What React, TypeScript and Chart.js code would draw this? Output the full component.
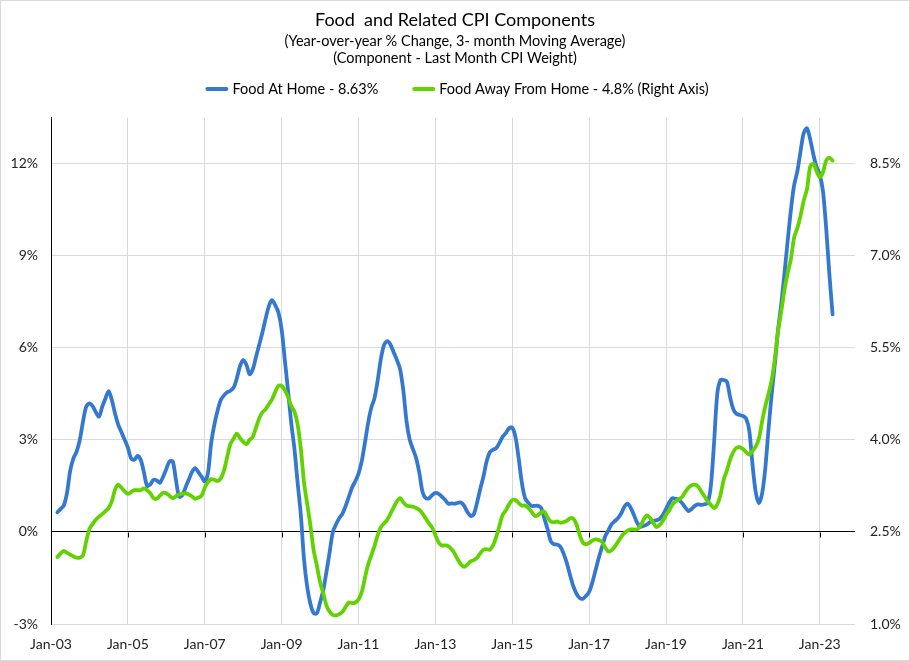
import { Chart, registerables } from 'chart.js';
import { useEffect, useRef } from 'react';

Chart.register(...registerables);

const titleText = 'Food  and Related CPI Components';
const subtitleLines = ['(Year-over-year % Change, 3- month Moving Average)', '(Component - Last Month CPI Weight)'];
const seriesNames = ['Food At Home - 8.63%', 'Food Away From Home - 4.8% (Right Axis)'];

// month index 0 = Jan-03, first value is Mar-03, last is May-23
const firstMonth = 2;

const foodAtHome = [
  0.64, 0.75, 0.86, 1.27, 2.0, 2.4, 2.62, 3.0, 3.6, 4.08,
  4.19, 4.1, 3.9, 3.76, 4.08, 4.35, 4.59, 4.3, 3.85, 3.49, 3.25, 3.0,
  2.75, 2.4, 2.35, 2.48, 2.35, 1.95, 1.5, 1.55, 1.7, 1.68, 1.6, 1.8,
  2.05, 2.3, 2.3, 1.7, 1.15, 1.2, 1.45, 1.7, 1.95, 2.08, 1.95, 1.8,
  1.65, 1.92, 2.89, 3.5, 3.95, 4.3, 4.45, 4.55, 4.6, 4.7, 5.0, 5.4,
  5.6, 5.45, 5.14, 5.3, 5.7, 6.1, 6.5, 6.95, 7.35, 7.55, 7.39, 7.15,
  6.6, 5.6, 4.6, 3.55, 2.7, 1.6, 0.55, -0.9, -1.8, -2.35, -2.65, -2.65,
  -2.3, -1.9, -1.3, -0.65, 0.0, 0.25, 0.45, 0.6, 0.85, 1.15, 1.45, 1.65,
  1.9, 2.3, 2.9, 3.55, 4.05, 4.36, 4.95, 5.65, 6.1, 6.22, 6.1, 5.85,
  5.6, 5.3, 4.6, 3.6, 3.0, 2.7, 2.4, 1.92, 1.3, 1.1, 1.1, 1.2,
  1.27, 1.24, 1.15, 1.05, 0.92, 0.93, 0.92, 0.95, 0.96, 0.85, 0.65, 0.52,
  0.58, 0.95, 1.4, 1.8, 2.3, 2.6, 2.68, 2.73, 2.9, 3.1, 3.22, 3.38,
  3.4, 3.1, 2.4, 1.6, 1.1, 0.95, 0.85, 0.85, 0.85, 0.78, 0.45, 0.1,
  -0.3, -0.4, -0.41, -0.48, -0.7, -1.0, -1.39, -1.75, -2.0, -2.15, -2.18, -2.09,
  -1.95, -1.65, -1.25, -0.85, -0.5, -0.15, 0.05, 0.25, 0.35, 0.45, 0.6, 0.82,
  0.92, 0.78, 0.55, 0.3, 0.17, 0.2, 0.24, 0.32, 0.36, 0.38, 0.42, 0.55,
  0.75, 0.95, 1.1, 1.08, 1.05, 0.94, 0.8, 0.68, 0.75, 0.85, 0.9, 0.88,
  0.9, 0.95, 1.5, 2.9, 4.5, 4.95, 4.95, 4.9, 4.4, 4.0, 3.85, 3.81,
  3.78, 3.7, 3.3, 2.2, 1.3, 0.94, 1.25, 2.08, 3.35, 4.5, 5.5, 6.6,
  7.45, 8.45, 9.5, 10.5, 11.3, 11.75, 12.4, 13.0, 13.15, 12.8, 12.3, 11.9,
  11.65, 11.1, 9.9, 8.4, 7.09,
];

const foodAway = [
  2.09, 2.15, 2.19, 2.16, 2.13, 2.1, 2.08, 2.08, 2.12, 2.35,
  2.55, 2.63, 2.7, 2.75, 2.79, 2.84, 2.89, 3.0, 3.19, 3.27, 3.22, 3.16,
  3.12, 3.15, 3.18, 3.18, 3.18, 3.21, 3.18, 3.13, 3.05, 3.04, 3.09, 3.14,
  3.13, 3.09, 3.05, 3.08, 3.11, 3.12, 3.13, 3.11, 3.08, 3.04, 3.06, 3.09,
  3.22, 3.31, 3.36, 3.35, 3.33, 3.37, 3.5, 3.72, 3.93, 4.02, 4.1, 4.03,
  3.97, 3.93, 4.0, 4.05, 4.2, 4.35, 4.45, 4.5, 4.58, 4.66, 4.78, 4.88,
  4.88, 4.81, 4.7, 4.55, 4.46, 4.25, 3.85, 3.3, 2.95, 2.6, 2.2, 1.95,
  1.68, 1.5, 1.3, 1.2, 1.15, 1.14, 1.16, 1.2, 1.28, 1.35, 1.34, 1.35,
  1.4, 1.52, 1.75, 1.97, 2.12, 2.27, 2.45, 2.58, 2.64, 2.7, 2.8, 2.9,
  3.0, 3.05, 2.98, 2.93, 2.92, 2.91, 2.89, 2.86, 2.8, 2.72, 2.64, 2.57,
  2.45, 2.33, 2.28, 2.28, 2.27, 2.22, 2.15, 2.05, 1.97, 1.93, 1.97, 2.02,
  2.04, 2.08, 2.15, 2.21, 2.22, 2.21, 2.28, 2.42, 2.6, 2.78, 2.85, 2.95,
  3.02, 3.02, 2.97, 2.93, 2.93, 2.89, 2.83, 2.76, 2.77, 2.82, 2.83, 2.74,
  2.67, 2.66, 2.67, 2.65, 2.66, 2.68, 2.72, 2.72, 2.63, 2.46, 2.33, 2.3,
  2.32, 2.36, 2.38, 2.37, 2.34, 2.25, 2.18, 2.2, 2.26, 2.34, 2.42, 2.48,
  2.52, 2.54, 2.54, 2.54, 2.6, 2.7, 2.77, 2.73, 2.65, 2.58, 2.61, 2.68,
  2.78, 2.85, 2.95, 3.0, 3.03, 3.07, 3.15, 3.22, 3.26, 3.27, 3.24, 3.16,
  3.08, 3.0, 2.94, 2.89, 2.95, 3.1, 3.35, 3.5, 3.68, 3.8, 3.87, 3.88,
  3.85, 3.8, 3.76, 3.82, 3.89, 4.02, 4.3, 4.55, 4.75, 4.98, 5.33, 5.78,
  6.1, 6.45, 6.72, 6.95, 7.3, 7.45, 7.65, 7.9, 8.08, 8.45, 8.5, 8.38,
  8.28, 8.36, 8.55, 8.6, 8.55,
];

const xTickLabels = ['Jan-03', 'Jan-05', 'Jan-07', 'Jan-09', 'Jan-11', 'Jan-13', 'Jan-15', 'Jan-17', 'Jan-19', 'Jan-21', 'Jan-23'];
const leftTicks = [-3, 0, 3, 6, 9, 12];
const rightTicks = [1.0, 2.5, 4.0, 5.5, 7.0, 8.5];

const BLUE = '#3479CF';
const GREEN = '#62D200';
const GRID = '#d9d9d9';
const TEXT = '#222';
const FONT = 'Lato';

const overlay = {
  id: 'overlay',
  beforeDatasetsDraw(chart: any) {
    const { ctx, scales } = chart;
    const y0 = Math.round(scales.y.getPixelForValue(0)) + 0.5;
    ctx.save();
    ctx.strokeStyle = '#000';
    ctx.lineWidth = 1;
    ctx.beginPath();
    xTickLabels.forEach((_, i) => {
      if (i === 0) return;
      const x = Math.round(scales.x.getPixelForValue(i * 24)) + 0.5;
      ctx.moveTo(x, y0);
      ctx.lineTo(x, y0 + 5);
    });
    ctx.stroke();
    ctx.restore();
  },
  afterDraw(chart: any) {
    const { ctx } = chart;
    ctx.save();
    ctx.font = `14.5px ${FONT}`;
    ctx.textBaseline = 'middle';
    const colors = [BLUE, GREEN];
    const marker = 23;
    const gap = 4;
    const between = 34;
    const widths = seriesNames.map((s) => ctx.measureText(s).width);
    const total = widths.reduce((a, w) => a + marker + gap + w, 0) + between;
    let x = (chart.width - total) / 2 + 2;
    const y = 88;
    seriesNames.forEach((name, i) => {
      ctx.strokeStyle = colors[i];
      ctx.lineWidth = 4;
      ctx.lineCap = 'round';
      ctx.beginPath();
      ctx.moveTo(x + 2, y);
      ctx.lineTo(x + marker - 2, y);
      ctx.stroke();
      ctx.fillStyle = '#000';
      ctx.fillText(name, x + marker + gap, y);
      x += marker + gap + widths[i] + between;
    });
    ctx.restore();
  },
};

export default function App() {
  const chartRef = useRef<HTMLCanvasElement>(null);

  useEffect(() => {
    const ctx = chartRef.current!.getContext('2d')!;
    const chart = new Chart(ctx, {
      type: 'line',
      data: {
        datasets: [
          {
            label: seriesNames[1],
            data: foodAway.map((v, i) => ({ x: firstMonth + i, y: v })),
            borderColor: GREEN,
            backgroundColor: GREEN,
            borderWidth: 3.8,
            pointRadius: 0,
            tension: 0.3,
            borderCapStyle: 'round',
            borderJoinStyle: 'round',
            yAxisID: 'y1',
          },
          {
            label: seriesNames[0],
            data: foodAtHome.map((v, i) => ({ x: firstMonth + i, y: v })),
            borderColor: BLUE,
            backgroundColor: BLUE,
            borderWidth: 3.8,
            pointRadius: 0,
            tension: 0.3,
            borderCapStyle: 'round',
            borderJoinStyle: 'round',
            yAxisID: 'y',
          },
        ],
      },
      options: {
        responsive: false,
        animation: false,
        layout: { padding: 0 },
        plugins: {
          legend: { display: false },
          tooltip: { enabled: false },
          title: {
            display: true,
            text: titleText,
            color: '#000',
            font: { family: FONT, size: 18, weight: 'normal', lineHeight: 1.15 },
            padding: { top: 9, bottom: 0 },
          },
          subtitle: {
            display: true,
            text: subtitleLines,
            color: '#000',
            font: { family: FONT, size: 14.5, weight: 'normal', lineHeight: 1.17 },
            padding: { top: 2, bottom: 51 },
          },
        },
        scales: {
          x: {
            type: 'linear',
            min: 0,
            max: 251,
            afterBuildTicks: (scale: any) => {
              scale.ticks = xTickLabels.map((_, i) => ({ value: i * 24 }));
            },
            afterFit: (scale: any) => {
              scale.height = 36;
            },
            ticks: {
              callback: (v: any) => xTickLabels[Math.round(v / 24)],
              color: TEXT,
              font: { family: FONT, size: 14 },
              padding: 12,
              maxRotation: 0,
              autoSkip: false,
            },
            grid: {
              color: (c: any) => (c.tick && c.tick.value === 0 ? 'rgba(0,0,0,0)' : GRID),
              drawTicks: false,
            },
            border: { display: false },
          },
          y: {
            position: 'left',
            min: -3,
            max: 13.5,
            afterBuildTicks: (scale: any) => {
              scale.ticks = leftTicks.map((v) => ({ value: v }));
            },
            afterFit: (scale: any) => {
              scale.width = 50;
            },
            ticks: {
              callback: (v: any) => `${v}%`,
              color: TEXT,
              font: { family: FONT, size: 14 },
              padding: 13,
            },
            grid: {
              color: (c: any) => (c.tick && c.tick.value === 0 ? '#000' : GRID),
              drawTicks: false,
            },
            border: { display: true, color: '#000' },
          },
          y1: {
            position: 'right',
            min: 1,
            max: 9.25,
            afterBuildTicks: (scale: any) => {
              scale.ticks = rightTicks.map((v) => ({ value: v }));
            },
            afterFit: (scale: any) => {
              scale.width = 54;
            },
            ticks: {
              callback: (v: any) => `${Number(v).toFixed(1)}%`,
              color: TEXT,
              font: { family: FONT, size: 14 },
              padding: 15,
            },
            grid: { display: false, drawTicks: false },
            border: { display: false },
          },
        },
      },
      plugins: [overlay],
    });
    return () => {
      chart.destroy();
    };
  }, []);

  return (
    <div
      style={{
        position: 'absolute',
        left: 0,
        top: 0,
        width: 910,
        height: 661,
        boxSizing: 'border-box',
        border: '1px solid #d9d9d9',
        background: '#fff',
      }}
    >
      <canvas ref={chartRef} width={908} height={659} style={{ display: 'block' }}></canvas>
    </div>
  );
}
